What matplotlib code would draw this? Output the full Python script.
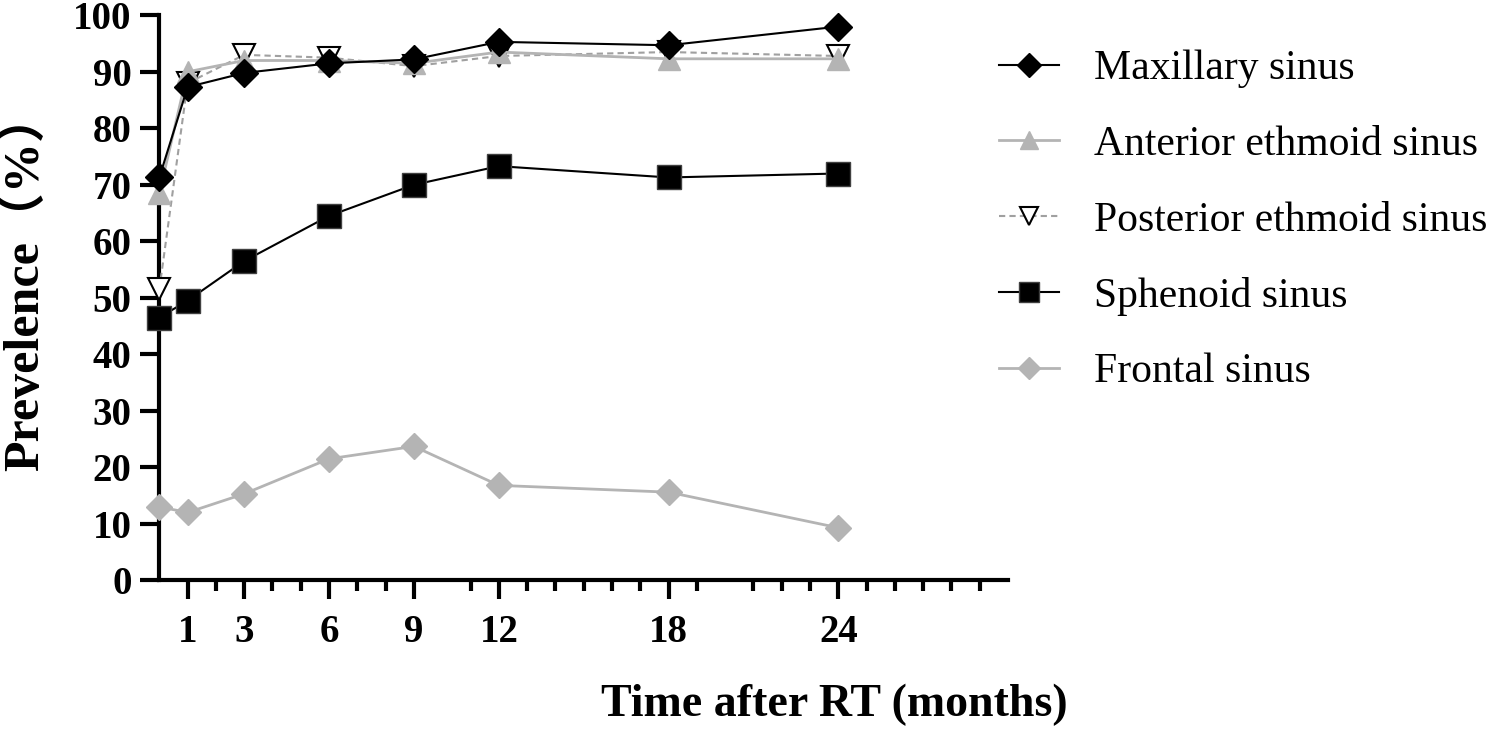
import matplotlib.pyplot as plt
from matplotlib.ticker import FixedLocator

plt.rcParams['font.family'] = ['Liberation Serif', 'Noto Sans CJK SC', 'DejaVu Sans']

# Months after radiotherapy
months = [0, 1, 3, 6, 9, 12, 18, 24]

# Prevalence (%) per sinus
maxillary = [71.3, 87.3, 89.8, 91.5, 92.2, 95.3, 94.7, 98.0]
anterior = [68.5, 90.0, 92.0, 92.0, 91.5, 93.5, 92.3, 92.3]
posterior = [51.5, 88.0, 93.0, 92.5, 91.0, 92.8, 93.5, 92.8]
sphenoid = [46.5, 49.5, 56.5, 64.5, 70.0, 73.3, 71.3, 72.0]
frontal = [13.0, 12.0, 15.3, 21.5, 23.7, 16.8, 15.6, 9.3]

major_ticks = [1, 3, 6, 9, 12, 18, 24]
minor_ticks = [2, 4, 5, 7, 8, 11, 13, 14, 15, 16, 17, 19, 21, 22, 23, 25, 26, 27, 28, 29]
y_ticks = list(range(0, 101, 10))

grey = '#b4b4b4'

fig = plt.figure(figsize=(14.89, 7.29), dpi=100)
ax = fig.add_axes([0.107, 0.204, 0.570, 0.775])

# Draw the series (markers may sit on the axis, so no clipping)
ax.plot(months, posterior, color='#a0a0a0', ls=(0, (3, 2)), lw=1.5,
        marker='v', ms=16, mfc='white', mec='black', mew=1.5,
        label='Posterior ethmoid sinus', clip_on=False, zorder=3)
ax.plot(months, anterior, color=grey, lw=2, marker='^', ms=16,
        mfc=grey, mec=grey, label='Anterior ethmoid sinus', clip_on=False, zorder=4)
ax.plot(months, sphenoid, color='black', lw=1.5, marker='s', ms=17,
        mfc='black', mec='#404040', label='Sphenoid sinus', clip_on=False, zorder=4)
ax.plot(months, frontal, color=grey, lw=2, marker='D', ms=13,
        mfc=grey, mec=grey, label='Frontal sinus', clip_on=False, zorder=4)
ax.plot(months, maxillary, color='black', lw=1.5, marker='D', ms=14,
        mfc='black', mec='black', label='Maxillary sinus', clip_on=False, zorder=5)

ax.set_xlim(0, 30)
ax.set_ylim(0, 100)

ax.xaxis.set_major_locator(FixedLocator(major_ticks))
ax.xaxis.set_minor_locator(FixedLocator(minor_ticks))
ax.set_yticks(y_ticks)

for side in ['top', 'right']:
    ax.spines[side].set_visible(False)
for side in ['left', 'bottom']:
    ax.spines[side].set_linewidth(3)

ax.tick_params(axis='both', which='major', length=14, width=3, direction='out',
               labelsize=28, pad=6)
ax.tick_params(axis='x', which='minor', length=8, width=3, direction='out')
ax.tick_params(axis='x', which='major', pad=10)
for lbl in ax.get_xticklabels() + ax.get_yticklabels():
    lbl.set_fontweight('bold')

ax.set_ylabel('Prevelence（%）', fontsize=36, fontweight='bold')
ax.yaxis.set_label_coords(-0.130, 0.53)
fig.text(0.56, 0.033, 'Time after RT (months)', fontsize=33, fontweight='bold',
         ha='center', va='center')

handles, labels = ax.get_legend_handles_labels()
order = ['Maxillary sinus', 'Anterior ethmoid sinus', 'Posterior ethmoid sinus',
         'Sphenoid sinus', 'Frontal sinus']
hmap = dict(zip(labels, handles))
leg = fig.legend([hmap[k] for k in order], order, loc='upper left',
                 bbox_to_anchor=(0.6454, 0.983), frameon=False, fontsize=30,
                 handlelength=1.44, handletextpad=0.84, labelspacing=0.89,
                 markerscale=0.85)

fig.savefig('out.png', dpi=100)
